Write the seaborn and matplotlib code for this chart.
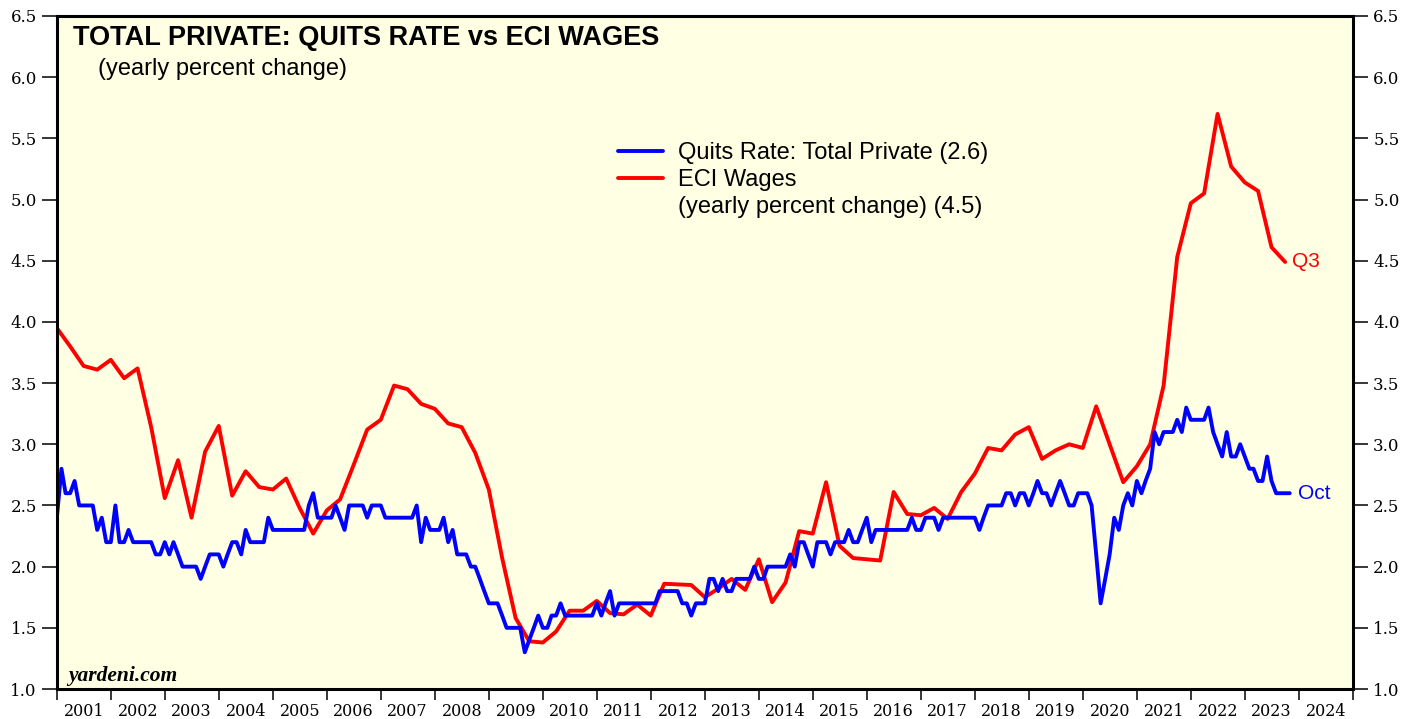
import numpy as np
import pandas as pd
import matplotlib
matplotlib.use("Agg")
import matplotlib.pyplot as plt
import matplotlib.dates as mdates
from matplotlib.lines import Line2D
from matplotlib.ticker import FormatStrFormatter, NullFormatter
import seaborn as sns

# quits rate, total private, monthly (Dec 2000 .. Oct 2023)
quits_start = "2000-12-31"
quits_rate = [
    2.4,
    2.8, 2.6, 2.6, 2.7, 2.5, 2.5, 2.5, 2.5, 2.3, 2.4, 2.2, 2.2,  # 2001
    2.5, 2.2, 2.2, 2.3, 2.2, 2.2, 2.2, 2.2, 2.2, 2.1, 2.1, 2.2,  # 2002
    2.1, 2.2, 2.1, 2.0, 2.0, 2.0, 2.0, 1.9, 2.0, 2.1, 2.1, 2.1,  # 2003
    2.0, 2.1, 2.2, 2.2, 2.1, 2.3, 2.2, 2.2, 2.2, 2.2, 2.4, 2.3,  # 2004
    2.3, 2.3, 2.3, 2.3, 2.3, 2.3, 2.3, 2.5, 2.6, 2.4, 2.4, 2.4,  # 2005
    2.4, 2.5, 2.4, 2.3, 2.5, 2.5, 2.5, 2.5, 2.4, 2.5, 2.5, 2.5,  # 2006
    2.4, 2.4, 2.4, 2.4, 2.4, 2.4, 2.4, 2.5, 2.2, 2.4, 2.3, 2.3,  # 2007
    2.3, 2.4, 2.2, 2.3, 2.1, 2.1, 2.1, 2.0, 2.0, 1.9, 1.8, 1.7,  # 2008
    1.7, 1.7, 1.6, 1.5, 1.5, 1.5, 1.5, 1.3, 1.4, 1.5, 1.6, 1.5,  # 2009
    1.5, 1.6, 1.6, 1.7, 1.6, 1.6, 1.6, 1.6, 1.6, 1.6, 1.6, 1.7,  # 2010
    1.6, 1.7, 1.8, 1.6, 1.7, 1.7, 1.7, 1.7, 1.7, 1.7, 1.7, 1.7,  # 2011
    1.7, 1.8, 1.8, 1.8, 1.8, 1.8, 1.7, 1.7, 1.6, 1.7, 1.7, 1.7,  # 2012
    1.9, 1.9, 1.8, 1.9, 1.8, 1.8, 1.9, 1.9, 1.9, 1.9, 2.0, 1.9,  # 2013
    1.9, 2.0, 2.0, 2.0, 2.0, 2.0, 2.1, 2.0, 2.2, 2.2, 2.1, 2.0,  # 2014
    2.2, 2.2, 2.2, 2.1, 2.2, 2.2, 2.2, 2.3, 2.2, 2.2, 2.3, 2.4,  # 2015
    2.2, 2.3, 2.3, 2.3, 2.3, 2.3, 2.3, 2.3, 2.3, 2.4, 2.3, 2.3,  # 2016
    2.4, 2.4, 2.4, 2.3, 2.4, 2.4, 2.4, 2.4, 2.4, 2.4, 2.4, 2.4,  # 2017
    2.3, 2.4, 2.5, 2.5, 2.5, 2.5, 2.6, 2.6, 2.5, 2.6, 2.6, 2.5,  # 2018
    2.6, 2.7, 2.6, 2.6, 2.5, 2.6, 2.7, 2.6, 2.5, 2.5, 2.6, 2.6,  # 2019
    2.6, 2.5, 2.1, 1.7, 1.9, 2.1, 2.4, 2.3, 2.5, 2.6, 2.5, 2.7,  # 2020
    2.6, 2.7, 2.8, 3.1, 3.0, 3.1, 3.1, 3.1, 3.2, 3.1, 3.3, 3.2,  # 2021
    3.2, 3.2, 3.2, 3.3, 3.1, 3.0, 2.9, 3.1, 2.9, 2.9, 3.0, 2.9,  # 2022
    2.8, 2.8, 2.7, 2.7, 2.9, 2.7, 2.6, 2.6, 2.6, 2.6,            # 2023
]

# ECI wages, yearly % change, quarterly (2000 Q4 .. 2023 Q3)
eci_start = "2000-12-31"
eci_wages = [
    3.95,
    3.80, 3.64, 3.61, 3.69,  # 2001
    3.54, 3.62, 3.14, 2.56,  # 2002
    2.87, 2.40, 2.94, 3.15,  # 2003
    2.58, 2.78, 2.65, 2.63,  # 2004
    2.72, 2.48, 2.27, 2.46,  # 2005
    2.55, 2.83, 3.12, 3.20,  # 2006
    3.48, 3.45, 3.33, 3.29,  # 2007
    3.17, 3.14, 2.93, 2.63,  # 2008
    2.07, 1.58, 1.39, 1.38,  # 2009
    1.47, 1.64, 1.64, 1.72,  # 2010
    1.62, 1.61, 1.69, 1.60,  # 2011
    1.86, 1.855, 1.85, 1.75, # 2012
    1.82, 1.90, 1.81, 2.06,  # 2013
    1.71, 1.87, 2.29, 2.27,  # 2014
    2.69, 2.17, 2.07, 2.06,  # 2015
    2.05, 2.61, 2.43, 2.42,  # 2016
    2.48, 2.39, 2.61, 2.76,  # 2017
    2.97, 2.95, 3.08, 3.14,  # 2018
    2.88, 2.95, 3.00, 2.97,  # 2019
    3.31, 3.00, 2.69, 2.82,  # 2020
    3.00, 3.48, 4.53, 4.97,  # 2021
    5.05, 5.70, 5.27, 5.14,  # 2022
    5.07, 4.61, 4.49,        # 2023
]

etiquetas = ["Quits Rate: Total Private (2.6)", "ECI Wages", "(yearly percent change) (4.5)"]
titulo = "TOTAL PRIVATE: QUITS RATE vs ECI WAGES"
subtitulo = "(yearly percent change)"

AZUL = "#0000FF"
ROJO = "#FF0000"

sns.set_style("ticks", {"axes.facecolor": "#FFFFE3", "axes.edgecolor": "black"})
plt.rcParams["font.family"] = ["Liberation Sans", "DejaVu Sans"]
plt.rcParams["text.color"] = "black"
plt.rcParams["xtick.color"] = "black"
plt.rcParams["ytick.color"] = "black"

W, H = 1419, 719
fig = plt.figure(figsize=(W / 100, H / 100), dpi=100)
ax = fig.add_axes([57 / W, 1 - 689 / H, (1353 - 57) / W, (689 - 16) / H])

quits = pd.DataFrame({
    "fecha": pd.date_range(quits_start, periods=len(quits_rate), freq=pd.offsets.MonthEnd()),
    "valor": quits_rate,
})
eci = pd.DataFrame({
    "fecha": pd.date_range(eci_start, periods=len(eci_wages), freq=pd.offsets.QuarterEnd()),
    "valor": eci_wages,
})

sns.lineplot(data=eci, x="fecha", y="valor", color=ROJO, linewidth=2.8, ax=ax, legend=False)
sns.lineplot(data=quits, x="fecha", y="valor", color=AZUL, linewidth=2.8, ax=ax, legend=False)

ax.set_xlabel("")
ax.set_ylabel("")
ax.set_xlim(pd.Timestamp("2001-01-01"), pd.Timestamp("2025-01-01"))
ax.set_ylim(1.0, 6.5)

for s in ax.spines.values():
    s.set_linewidth(2.2)
    s.set_visible(True)

# y ticks on both sides
ax.set_yticks(np.arange(1.0, 6.51, 0.5))
ax.yaxis.set_major_formatter(FormatStrFormatter("%.1f"))
ax.tick_params(axis="y", which="major", direction="out", length=10.5, width=1.1,
               left=True, right=True, labelleft=True, labelright=True,
               labelsize=12, pad=4, labelfontfamily="DejaVu Serif", colors="black")

# x: year boundaries as ticks, labels centred in each year
ax.xaxis.set_major_locator(mdates.YearLocator(1))
ax.xaxis.set_major_formatter(NullFormatter())
ax.xaxis.set_minor_locator(mdates.MonthLocator(bymonth=7, bymonthday=1))
ax.xaxis.set_minor_formatter(mdates.DateFormatter("%Y"))
ax.tick_params(axis="x", which="major", direction="out", length=8, width=1.1, top=False, bottom=True)
ax.tick_params(axis="x", which="minor", length=0, pad=10, labelsize=11.5,
               labelfontfamily="DejaVu Serif", colors="black", top=False)

# titulo
fig.text(73 / W, 1 - 45 / H, titulo, fontsize=19.5, fontweight="bold", va="baseline", ha="left")
fig.text(98 / W, 1 - 75 / H, subtitulo, fontsize=17, va="baseline", ha="left")

# leyenda
manejadores = [Line2D([], [], color=AZUL, linewidth=2.8),
               Line2D([], [], color=ROJO, linewidth=2.8),
               Line2D([], [], color="none")]
tam = 17 * 100 / 72
ax.legend(manejadores, etiquetas, loc="upper left",
          bbox_to_anchor=(618 / W, 1 - 142 / H), bbox_transform=fig.transFigure,
          frameon=False, borderpad=0, borderaxespad=0, fontsize=17,
          handlelength=45 / tam, handletextpad=15 / tam, labelspacing=0.22)

# etiquetas finales
ax.annotate("Q3", xy=(eci["fecha"].iloc[-1], eci["valor"].iloc[-1]), xytext=(5, 0),
            textcoords="offset points", color=ROJO, fontsize=15, va="center", ha="left")
ax.annotate("Oct", xy=(quits["fecha"].iloc[-1], quits["valor"].iloc[-1]), xytext=(6, 0),
            textcoords="offset points", color=AZUL, fontsize=15, va="center", ha="left")

fig.text(68 / W, 1 - 681 / H, "yardeni.com", fontsize=15.5, fontweight="bold", style="italic",
         family="Liberation Serif", va="baseline", ha="left")

plt.savefig("out.png", dpi=100)
